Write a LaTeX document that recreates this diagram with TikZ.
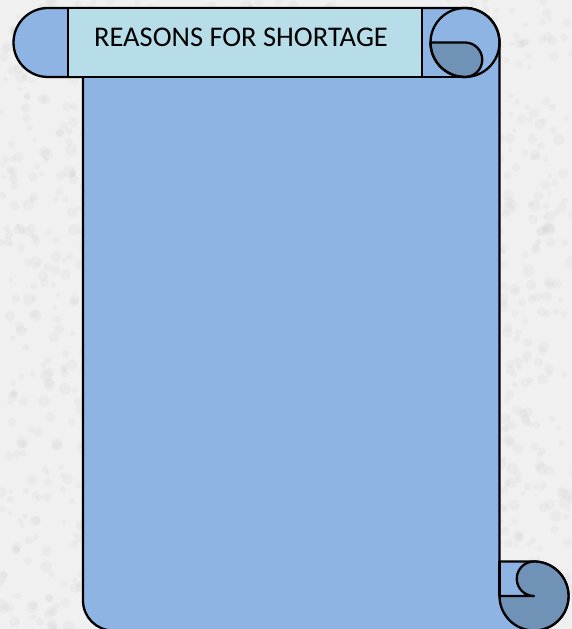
\documentclass[tikz,border=0pt]{standalone}
\usepackage{fontspec}
\setmainfont{Carlito}
\usetikzlibrary{positioning}
\definecolor{paper}{RGB}{240,240,240}
\definecolor{speckle}{RGB}{185,185,185}
\definecolor{scrollblue}{RGB}{141,180,227}
\definecolor{titleblue}{RGB}{183,221,232}
\definecolor{curlblue}{RGB}{112,146,182}
\tikzset{
	scrollline/.style={line width=2.3pt, draw=black, line join=round},
	titlefont/.style={font=\fontsize{28.5}{34}\selectfont, inner sep=0pt}
}
\begin{document}
\begin{tikzpicture}[x=1pt,y=1pt]
			% Background
			\fill[paper] (0,0) rectangle (572,629);
			\useasboundingbox (0,0) rectangle (572,629);
			\pgfmathsetseed{7}
			\foreach \i in {1,...,1800} {
				\fill[speckle, opacity=0.10] (rnd*572, rnd*629) circle (2+rnd*4);
			}
			
			% Scroll body
			\filldraw[scrollline, fill=scrollblue]
				(48,621) -- (465,621) arc[start angle=90, end angle=0, radius=34.5]
				-- (499.5,67.5) -- (534,67.5) arc[start angle=90, end angle=-90, radius=34.5]
				-- (113,-1.5) arc[start angle=270, end angle=180, radius=30]
				-- (83,552) -- (48,552) arc[start angle=270, end angle=90, radius=34.5] -- cycle;
			
			% Title bar
			\filldraw[scrollline, fill=titleblue] (68,621) rectangle (422,552);
			\draw[scrollline] (422,552) -- (465,552);
			\node[titlefont] (title) at (241,592) {REASONS FOR SHORTAGE};
			
			% Top curl
			\filldraw[scrollline, fill=curlblue] (430.5,586.5) -- (465,586.5)
				arc[start angle=90, end angle=-90, radius=17.25]
				arc[start angle=270, end angle=180, radius=34.5] -- cycle;
			\draw[scrollline] (465,586.5) circle[radius=34.5];
			
			% Bottom curl
			\draw[scrollline] (499.5,67.5) -- (499.5,33);
			\filldraw[scrollline, fill=curlblue] (534,33)
				arc[start angle=270, end angle=90, radius=17.25]
				arc[start angle=90, end angle=-180, radius=34.5] -- cycle;
		\end{tikzpicture}
\end{document}
